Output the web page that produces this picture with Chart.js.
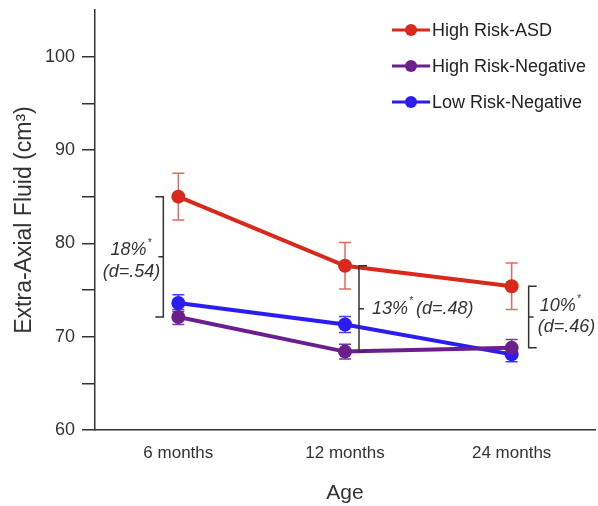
<!DOCTYPE html>
<html>
<head>
<meta charset="utf-8">
<script src="https://cdn.jsdelivr.net/npm/chart.js@4.4.0/dist/chart.umd.min.js"></script>
<style>
  html, body { margin: 0; padding: 0; background: #fff; }
  #wrap { width: 598px; height: 506px; }
</style>
</head>
<body>
<div id="wrap"><canvas id="chart"></canvas></div>
<script>
// data
const ages = ["6 months", "12 months", "24 months"];
const hrAsd = [85.0, 77.6, 75.4];
const hrAsdErr = [2.5, 2.5, 2.5];
const hrNeg = [72.1, 68.4, 68.8];
const hrNegErr = [0.8, 0.8, 0.9];
const lrNeg = [73.6, 71.3, 68.1];
const lrNegErr = [0.9, 0.85, 0.8];
const yTicks = [60, 65, 70, 75, 80, 85, 90, 95, 100];
const pctDiff = ["18%", "13%", "10%"];
const effectSize = ["(d=.54)", "(d=.48)", "(d=.46)"];

const FONT = "'Liberation Sans', Arial, sans-serif";
const INK = "#333";

// error bars, drawn under the points
const errorBars = {
  id: "errorBars",
  beforeDatasetsDraw(chart) {
    const ctx = chart.ctx;
    const y = chart.scales.y;
    chart.data.datasets.forEach((ds, i) => {
      const meta = chart.getDatasetMeta(i);
      ctx.save();
      ctx.strokeStyle = ds.errColor;
      ctx.lineWidth = 1.5;
      meta.data.forEach((pt, j) => {
        const top = y.getPixelForValue(ds.data[j] + ds.err[j]);
        const bot = y.getPixelForValue(ds.data[j] - ds.err[j]);
        ctx.beginPath();
        ctx.moveTo(pt.x, top); ctx.lineTo(pt.x, bot);
        ctx.moveTo(pt.x - 6, top); ctx.lineTo(pt.x + 6, top);
        ctx.moveTo(pt.x - 6, bot); ctx.lineTo(pt.x + 6, bot);
        ctx.stroke();
      });
      ctx.restore();
    });
  }
};

// brackets with % difference and effect size
const brackets = {
  id: "brackets",
  afterDatasetsDraw(chart) {
    const ctx = chart.ctx;
    const x = chart.scales.x, y = chart.scales.y;
    // side: -1 bracket left of the point, +1 right of it
    const sides = [-1, 1, 1];
    const gaps = [15, 14, 17];
    const bx = [], mid = [];
    ctx.save();
    ctx.strokeStyle = INK;
    ctx.fillStyle = INK;
    ctx.lineWidth = 1.5;
    for (let i = 0; i < ages.length; i++) {
      const px = x.getPixelForValue(i);
      const b0 = px + sides[i] * gaps[i];
      const t = y.getPixelForValue(hrAsd[i]);
      const b = y.getPixelForValue(hrNeg[i]);
      const m = (t + b) / 2;
      const end = -sides[i] * 8; // ends point toward the markers
      ctx.beginPath();
      ctx.moveTo(b0 - end, t); ctx.lineTo(b0, t); ctx.lineTo(b0, b); ctx.lineTo(b0 - end, b);
      ctx.moveTo(b0, m); ctx.lineTo(b0 + sides[i] * 5, m);
      ctx.stroke();
      bx.push(b0); mid.push(m);
    }
    ctx.font = "italic 18px " + FONT;
    ctx.textBaseline = "middle";
    const star = (txt, xx, yy) => {
      ctx.fillText(txt, xx, yy);
      const w = ctx.measureText(txt).width;
      ctx.save();
      ctx.font = "italic 10px " + FONT;
      ctx.textAlign = "left";
      ctx.fillText("*", xx + w + 1, yy - 7);
      ctx.restore();
      return w + 8;
    };
    // 6 months: text to the left
    ctx.textAlign = "left";
    const w0 = ctx.measureText(effectSize[0]).width;
    const p0 = ctx.measureText(pctDiff[0]).width;
    star(pctDiff[0], bx[0] - 3 - w0 / 2 - p0 / 2 - 3, mid[0] - 7);
    ctx.fillText(effectSize[0], bx[0] - 3 - w0, mid[0] + 15);
    // 12 months: one line to the right
    const w1 = star(pctDiff[1], bx[1] + 13, mid[1]);
    ctx.fillText(effectSize[1], bx[1] + 13 + w1, mid[1]);
    // 24 months: two lines to the right
    star(pctDiff[2], bx[2] + 11, mid[2] - 11);
    ctx.fillText(effectSize[2], bx[2] + 9, mid[2] + 10);
    ctx.restore();
  }
};

// legend inside the plot, top right
const legendBox = {
  id: "legendBox",
  afterDraw(chart) {
    const ctx = chart.ctx;
    const area = chart.chartArea;
    const x0 = area.right - 203;
    ctx.save();
    ctx.font = "18px " + FONT;
    ctx.textBaseline = "middle";
    ctx.textAlign = "left";
    chart.data.datasets.forEach((ds, i) => {
      const yy = area.top + 20 + i * 36;
      ctx.strokeStyle = ds.borderColor;
      ctx.lineWidth = 3;
      ctx.beginPath();
      ctx.moveTo(x0, yy); ctx.lineTo(x0 + 38, yy);
      ctx.stroke();
      ctx.fillStyle = ds.borderColor;
      ctx.beginPath();
      ctx.arc(x0 + 19, yy, 6, 0, Math.PI * 2);
      ctx.fill();
      ctx.fillStyle = "#222";
      ctx.fillText(ds.label, x0 + 40, yy + 1);
    });
    ctx.restore();
  }
};

function series(label, data, err, color, errColor) {
  return {
    label: label,
    data: data,
    err: err,
    errColor: errColor,
    borderColor: color,
    backgroundColor: color,
    borderWidth: 4,
    pointRadius: 7,
    pointHoverRadius: 7,
    pointBorderWidth: 0,
    tension: 0
  };
}

new Chart(document.getElementById("chart"), {
  type: "line",
  data: {
    labels: ages,
    datasets: [
      series("High Risk-ASD", hrAsd, hrAsdErr, "#d8291d", "#e06a62"),
      series("High Risk-Negative", hrNeg, hrNegErr, "#6b1f8c", "#7a3a98"),
      series("Low Risk-Negative", lrNeg, lrNegErr, "#2b1cf2", "#4a3cf2")
    ]
  },
  options: {
    responsive: true,
    maintainAspectRatio: false,
    animation: false,
    layout: { autoPadding: false, padding: { top: 10, right: 3, left: 0, bottom: 0 } },
    plugins: {
      legend: { display: false },
      tooltip: { enabled: false }
    },
    scales: {
      x: {
        offset: true,
        grid: { display: false },
        border: { display: true, color: INK, width: 1.5 },
        ticks: { color: INK, font: { family: FONT, size: 17 }, padding: 5 },
        title: { display: true, text: "Age", color: INK, font: { family: FONT, size: 21 }, padding: { top: 0, bottom: 0 } },
        afterFit(scale) { scale.height = 76; scale.paddingLeft = 0; scale.paddingRight = 0; }
      },
      y: {
        min: 60,
        max: 105,
        afterBuildTicks(scale) { scale.ticks = yTicks.map(v => ({ value: v })); },
        grid: { display: true, drawOnChartArea: false, drawTicks: true, tickLength: 13, color: INK, lineWidth: 1.5 },
        border: { display: true, color: INK, width: 1.5 },
        ticks: {
          color: INK,
          font: { family: FONT, size: 18 },
          padding: 7,
          callback: v => (v % 10 === 0 ? String(v) : "")
        },
        title: { display: true, text: "Extra-Axial Fluid (cm³)", color: INK, font: { family: FONT, size: 23 }, padding: { top: 11, bottom: 0 } },
        afterFit(scale) { scale.width = 95; scale.paddingTop = 0; scale.paddingBottom = 0; }
      }
    }
  },
  plugins: [errorBars, brackets, legendBox]
});
</script>
</body>
</html>
